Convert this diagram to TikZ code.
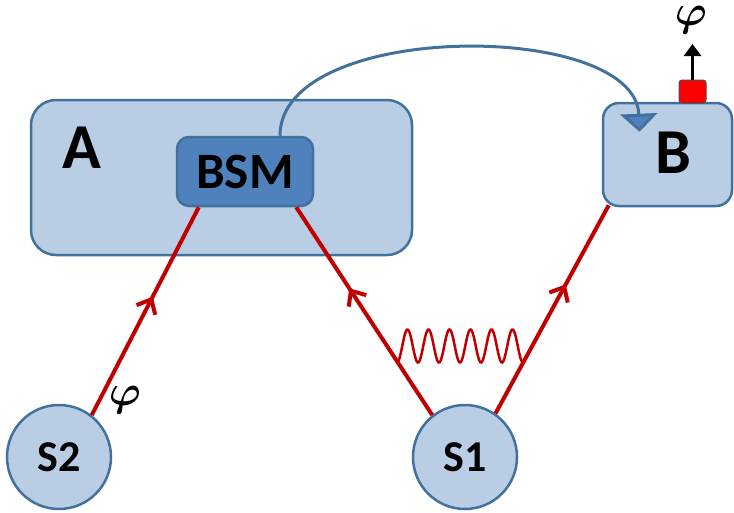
\documentclass[tikz,border=0pt]{standalone}
\usepackage{amsmath}
\usepackage{fontspec}
\setmainfont{Carlito}
\usetikzlibrary{arrows.meta,decorations.markings}
\definecolor{lightfill}{HTML}{B9CDE5}
\definecolor{edgeblue}{HTML}{41719C}
\definecolor{bsmfill}{HTML}{4F81BD}
\definecolor{redline}{HTML}{C00000}
\definecolor{tagred}{HTML}{FF0000}
\newcommand{\bigphi}{\scalebox{4.3}{$\boldsymbol{\varphi}$}}
\begin{document}
\begin{tikzpicture}[x=1pt,y=-1pt,
  box/.style={draw=edgeblue, line width=2.5pt, fill=lightfill, inner sep=0pt},
  bigtxt/.style={font=\fontsize{64}{64}\selectfont\bfseries, inner sep=0pt},
  srcnode/.style={circle, draw=edgeblue, line width=2.5pt, fill=lightfill, minimum size=104pt, inner sep=0pt, font=\fontsize{44}{44}\selectfont\bfseries},
  phlabel/.style={inner sep=0pt},
  beam/.style={draw=redline, line width=4pt, postaction={decorate},
    decoration={markings, mark=at position #1 with {\arrow{Straight Barb[length=12pt,width=21pt,line width=4pt]}}}}
]
\useasboundingbox (0,0) rectangle (734,512);
% boxes
\node[box, rounded corners=25pt, minimum width=381pt, minimum height=155pt] (A) at (221.5,177.5) {};
\node[bigtxt] (Alabel) at (82,148) {A};
\node[box, fill=bsmfill, draw=edgeblue, rounded corners=12pt, minimum width=136pt, minimum height=69pt,
      font=\fontsize{51}{51}\selectfont\bfseries] (BSM) at (245,171.5) {BSM};
\node[box, rounded corners=16pt, minimum width=129pt, minimum height=103pt] (B) at (667.5,154.5) {};
\node[bigtxt] (Blabel) at (673,153) {B};
% red tag with arrow
\node[draw=black!70, line width=1pt, fill=tagred, rounded corners=3pt, minimum width=27pt, minimum height=23pt, inner sep=0pt] (tag) at (692.5,91.5) {};
\coordinate (tagtop) at (692.5,44);
\draw[line width=3.5pt, -{Triangle[length=12pt,width=17pt]}] (tag.north) -- (tagtop);
\node[phlabel] (phiB) at (691,20) {\bigphi};
% sources
\node[srcnode] (S2) at (59,457) {S2};
\node[srcnode] (S1) at (465,457) {S1};
\node[phlabel] (phiS) at (125,400) {\bigphi};
% beams
\draw[beam=0.57] (S2.52) -- ([xshift=23pt]BSM.south west);
\draw[beam=0.61] (S1.128) -- ([xshift=-18pt]BSM.south east);
\draw[beam=0.62] (S1.55) -- ([xshift=7pt,yshift=2pt]B.south west);
% wiggle
\draw[redline, line width=2.5pt, domain=0:6, samples=200, smooth]
  plot ({397+21*\x}, {346+16.5*cos(360*\x)});
% classical link
\draw[edgeblue, line width=3pt, -{Triangle[length=18pt,width=37pt,fill=bsmfill]}]
  ([xshift=35pt]BSM.north) .. controls (280,20) and (635,20) .. ([xshift=-28pt,yshift=-30pt]B.north);
\end{tikzpicture}
\end{document}
